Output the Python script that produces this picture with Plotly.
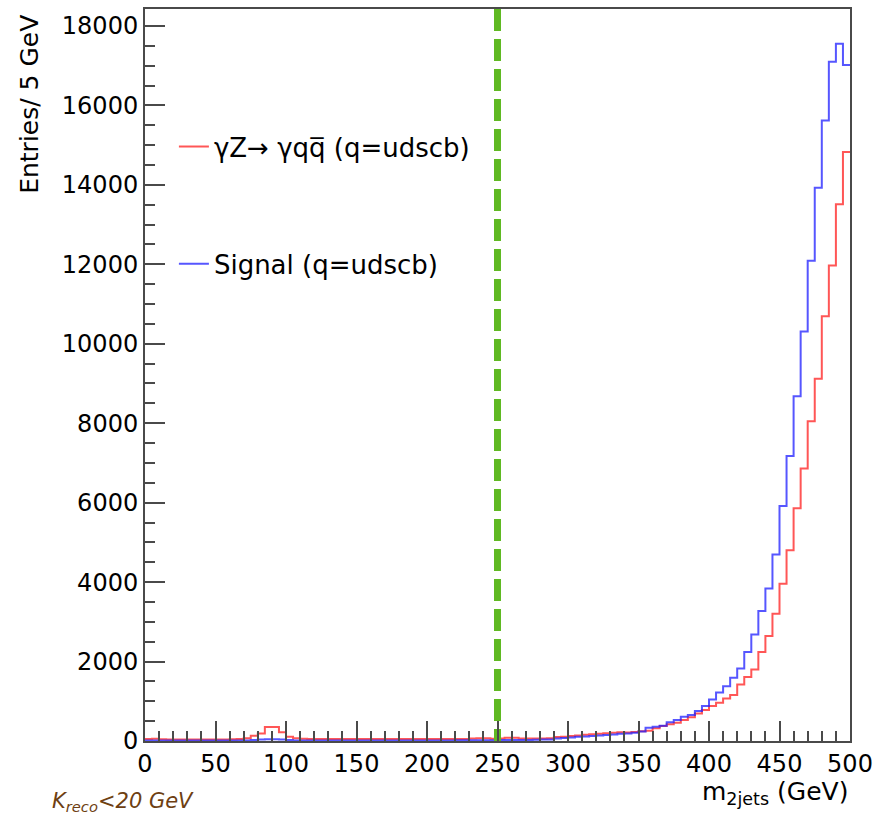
import numpy as np
import plotly.graph_objects as go

# 5 GeV bins from 0 to 500 GeV
bin_width = 5
bin_edges = list(range(0, 505, bin_width))

# gamma Z -> gamma q qbar background, entries per bin
background = [
    50, 55, 45, 40, 40, 40, 40, 40, 40, 40,
    40, 40, 45, 50, 70, 130, 190, 350, 350, 220,
    110, 70, 55, 50, 50, 48, 48, 48, 48, 48,
    48, 48, 48, 48, 48, 48, 48, 48, 48, 48,
    48, 48, 48, 48, 48, 48, 60, 70, 70, 55,
    60, 80, 80, 60, 60, 60, 65, 70, 100, 110,
    125, 140, 160, 170, 185, 195, 210, 220, 215, 228,
    245, 259, 319, 377, 419, 460, 527, 595, 695, 778,
    879, 962, 1072, 1155, 1423, 1614, 1800, 2242, 2644, 3206,
    3959, 4803, 5858, 6862, 8052, 9121, 10690, 11970, 13515, 14830,
]

# signal, entries per bin
signal = [
    10, 10, 10, 10, 10, 10, 10, 10, 10, 10,
    10, 10, 10, 10, 15, 25, 35, 45, 45, 35,
    25, 15, 15, 15, 10, 10, 10, 10, 10, 10,
    10, 10, 10, 10, 10, 10, 10, 10, 10, 10,
    15, 15, 15, 15, 18, 18, 20, 20, 22, 22,
    25, 25, 25, 28, 28, 30, 35, 40, 60, 75,
    90, 105, 115, 125, 140, 150, 165, 180, 190, 205,
    240, 335, 360, 385, 469, 527, 610, 653, 753, 879,
    1046, 1222, 1381, 1590, 1825, 2242, 2678, 3272, 3838, 4695,
    5918, 7173, 8680, 10310, 12090, 13930, 15620, 17100, 17550, 17020,
]

cut_value = 250
y_max = 1.05 * max(signal)

x_ticks = list(range(0, 550, 50))
y_ticks = list(range(0, 20000, 2000))

FONT = "DejaVu Sans"
AXIS_COLOR = "#4a4a4a"


def step_xy(values):
    xs = bin_edges
    ys = list(values) + [values[-1]]
    return xs, ys


fig = go.Figure()

xs, ys = step_xy(background)
fig.add_trace(go.Scatter(
    x=xs, y=ys, mode="lines", line=dict(shape="hv", color="rgba(255,30,30,0.75)", width=2),
    name="\u03b3Z\u2192 \u03b3qq\u0305 (q=udscb)", legend="legend",
))
xs, ys = step_xy(signal)
fig.add_trace(go.Scatter(
    x=xs, y=ys, mode="lines", line=dict(shape="hv", color="rgba(30,30,255,0.75)", width=2),
    name="Signal (q=udscb)", legend="legend2",
))

# selection cut
fig.add_trace(go.Scatter(
    x=[cut_value, cut_value], y=[y_max, 0], mode="lines",
    line=dict(color="#5fb922", width=7, dash="22px,8px"),
    showlegend=False, hoverinfo="skip",
))

fig.update_layout(
    width=880, height=819,
    margin=dict(l=145, r=28, t=7, b=78),
    paper_bgcolor="white", plot_bgcolor="white",
    font=dict(family=FONT, size=24, color="black"),
    legend=dict(
        x=0.041, y=0.812, xanchor="left", yanchor="middle",
        bgcolor="rgba(0,0,0,0)", font=dict(size=26), itemwidth=30,
    ),
    legend2=dict(
        x=0.041, y=0.652, xanchor="left", yanchor="middle",
        bgcolor="rgba(0,0,0,0)", font=dict(size=26), itemwidth=30,
    ),
)

fig.update_xaxes(
    range=[0, 500], tickvals=x_ticks, ticktext=[str(v) for v in x_ticks],
    ticks="inside", ticklen=20, tickwidth=1.5, tickcolor=AXIS_COLOR,
    minor=dict(dtick=10, ticks="inside", ticklen=10, tickwidth=1.5, tickcolor=AXIS_COLOR),
    showline=True, linecolor=AXIS_COLOR, linewidth=2, mirror=True,
    showgrid=False, zeroline=False, tickfont=dict(size=24),
)
fig.update_yaxes(
    range=[0, y_max], tickvals=y_ticks, ticktext=[str(v) for v in y_ticks],
    ticks="inside", ticklen=20, tickwidth=1.5, tickcolor=AXIS_COLOR,
    minor=dict(dtick=500, ticks="inside", ticklen=10, tickwidth=1.5, tickcolor=AXIS_COLOR),
    showline=True, linecolor=AXIS_COLOR, linewidth=2, mirror=True,
    showgrid=False, zeroline=False, tickfont=dict(size=24),
)

# axis titles, placed ROOT-style at the far ends of the axes
fig.add_annotation(
    text="m<sub>2jets</sub> (GeV)", xref="paper", yref="paper",
    x=1.0, y=-0.071, xanchor="right", yanchor="middle", showarrow=False,
    font=dict(size=25),
)
fig.add_annotation(
    text="Entries/ 5 GeV", xref="paper", yref="paper",
    x=-0.165, y=0.995, xanchor="center", yanchor="top", textangle=-90,
    showarrow=False, font=dict(size=25),
)
fig.add_annotation(
    text="<i>K<sub>reco</sub>&lt;20 GeV</i>", xref="paper", yref="paper",
    x=-0.135, y=-0.083, xanchor="left", yanchor="middle", showarrow=False,
    font=dict(size=21, color="#6e3f12"),
)

fig.write_html("out.html")
